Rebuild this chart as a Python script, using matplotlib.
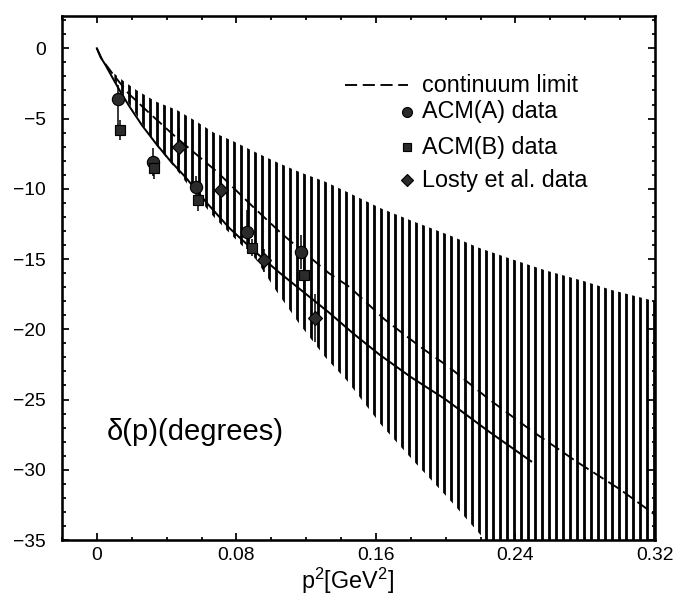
import matplotlib
matplotlib.use("Agg")
import matplotlib.pyplot as plt
from matplotlib.ticker import MultipleLocator

# curves (x = p^2 in GeV^2, y = delta in degrees)
solid_x = [0.0, 0.002, 0.005, 0.009, 0.014, 0.019, 0.026, 0.034, 0.042, 0.051,
           0.063, 0.076, 0.090, 0.105, 0.120, 0.133, 0.147, 0.162, 0.180,
           0.200, 0.225, 0.249]
solid_y = [0.0, -0.6, -1.2, -2.1, -3.2, -4.2, -5.5, -6.8, -8.0, -9.2,
           -11.0, -12.8, -14.4, -16.0, -17.5, -18.8, -20.3, -21.8, -23.4,
           -25.0, -27.3, -29.4]

continuum_x = [0.0, 0.003, 0.009, 0.018, 0.030, 0.046, 0.069, 0.088, 0.106,
               0.133, 0.145, 0.165, 0.186, 0.202, 0.225, 0.249, 0.276, 0.300,
               0.320]
continuum_y = [0.0, -0.8, -1.8, -3.2, -4.6, -6.4, -8.8, -11.1, -13.2,
               -16.0, -17.0, -19.3, -21.3, -22.7, -25.0, -27.2, -29.5, -31.4,
               -33.2]

# error band (hatched)
band_x = [0.010, 0.015, 0.023, 0.034, 0.046, 0.057, 0.067, 0.078, 0.091,
          0.103, 0.116, 0.131, 0.143, 0.163, 0.181, 0.202, 0.219, 0.240,
          0.257, 0.280, 0.295, 0.320]
band_hi = [-1.8, -2.3, -3.0, -3.8, -4.4, -5.2, -6.0, -6.6, -7.4,
           -8.1, -8.8, -9.5, -10.2, -11.4, -12.3, -13.3, -14.2, -15.1,
           -15.8, -16.6, -17.2, -18.0]
band_lo = [-2.2, -3.3, -4.8, -6.9, -8.7, -10.5, -12.0, -13.4, -15.0,
           -17.3, -19.6, -22.0, -23.6, -26.8, -29.3, -32.1, -34.5, -37.5,
           -40.0, -43.0, -45.0, -48.0]

# data sets
acm_a_x = [0.012, 0.032, 0.057, 0.086, 0.117]
acm_a_y = [-3.6, -8.1, -9.9, -13.1, -14.5]
acm_a_lo = [2.0, 1.0, 1.0, 1.2, 1.2]
acm_a_hi = [1.0, 1.0, 0.8, 1.6, 1.2]

acm_b_x = [0.013, 0.033, 0.058, 0.089, 0.119]
acm_b_y = [-5.8, -8.5, -10.8, -14.2, -16.1]
acm_b_err = [0.7, 0.8, 0.8, 0.6, 1.0]

losty_x = [0.047, 0.071, 0.096, 0.125]
losty_y = [-7.0, -10.1, -15.1, -19.2]
losty_err = [1.3, 1.4, 0.8, 1.7]

x_ticks = [0, 0.08, 0.16, 0.24, 0.32]
x_tick_labels = ["0", "0.08", "0.16", "0.24", "0.32"]
y_ticks = [0, -5, -10, -15, -20, -25, -30, -35]
y_tick_labels = ["0", "\u22125", "\u221210", "\u221215", "\u221220",
                 "\u221225", "\u221230", "\u221235"]

legend_labels = ["continuum limit", "ACM(A) data", "ACM(B) data",
                 "Losty et al. data"]

plt.rcParams["font.family"] = ["Liberation Sans", "DejaVu Sans"]
plt.rcParams["mathtext.default"] = "regular"
plt.rcParams["hatch.linewidth"] = 2.4

DPI = 84
fig = plt.figure(figsize=(678 / DPI, 595 / DPI), dpi=DPI)
ax = fig.add_axes([0.0914, 0.0924, 0.8747, 0.8807])

# hatched band
ax.fill_between(band_x, band_lo, band_hi, facecolor="none",
                edgecolor="black", linewidth=0, hatch="||")

ax.plot(solid_x, solid_y, color="black", lw=1.7)
ax.plot(continuum_x, continuum_y, color="black", lw=1.6,
        dashes=(6.5, 3))

mk = dict(color="black", mfc="#2b2b2b", mec="black", ls="none",
          elinewidth=1.3, capsize=0)
ax.errorbar(acm_a_x, acm_a_y, yerr=[acm_a_lo, acm_a_hi], fmt="o",
            ms=10.5, **mk)
ax.errorbar(acm_b_x, acm_b_y, yerr=acm_b_err, fmt="s", ms=8.5, **mk)
ax.errorbar(losty_x, losty_y, yerr=losty_err, fmt="D", ms=8, **mk)

ax.set_xlim(-0.02, 0.32)
ax.set_ylim(-35, 2.3)
ax.set_xticks(x_ticks)
ax.set_xticklabels(x_tick_labels)
ax.set_yticks(y_ticks)
ax.set_yticklabels(y_tick_labels)
ax.xaxis.set_minor_locator(MultipleLocator(0.02))
ax.yaxis.set_minor_locator(MultipleLocator(1))
ax.tick_params(which="both", direction="in", top=True, right=True,
               width=1.5, labelsize=16.5)
ax.tick_params(which="major", length=6)
ax.tick_params(which="minor", length=3)
ax.tick_params(axis="y", pad=14)
ax.tick_params(axis="x", pad=6)
for s in ax.spines.values():
    s.set_linewidth(2.2)

# hand made legend, as in the original figure
tr = ax.transAxes
ax.plot([0.477, 0.583], [0.868, 0.868], transform=tr, color="black",
        lw=1.6, dashes=(6.5, 3))
ax.text(0.607, 0.868, legend_labels[0], transform=tr, fontsize=20,
        va="center", ha="left")
leg_marks = ["o", "s", "D"]
leg_sizes = [8.5, 7.5, 7]
leg_y = [0.817, 0.750, 0.687]
for m, s, yy, lab in zip(leg_marks, leg_sizes, leg_y, legend_labels[1:]):
    ax.plot([0.582], [yy], transform=tr, marker=m, ms=s, mfc="#2b2b2b",
            mec="black", ls="none")
    ax.text(0.607, yy, lab, transform=tr, fontsize=20, va="center",
            ha="left")

ax.text(0.076, 0.206, "\u03b4(p)(degrees)", transform=tr, fontsize=25,
        va="center", ha="left")

fig.text(0.513, 1 - 589 / 595, r"p$^2$[GeV$^2$]", fontsize=20,
         ha="center", va="baseline")

fig.savefig("out.png", dpi=DPI)
